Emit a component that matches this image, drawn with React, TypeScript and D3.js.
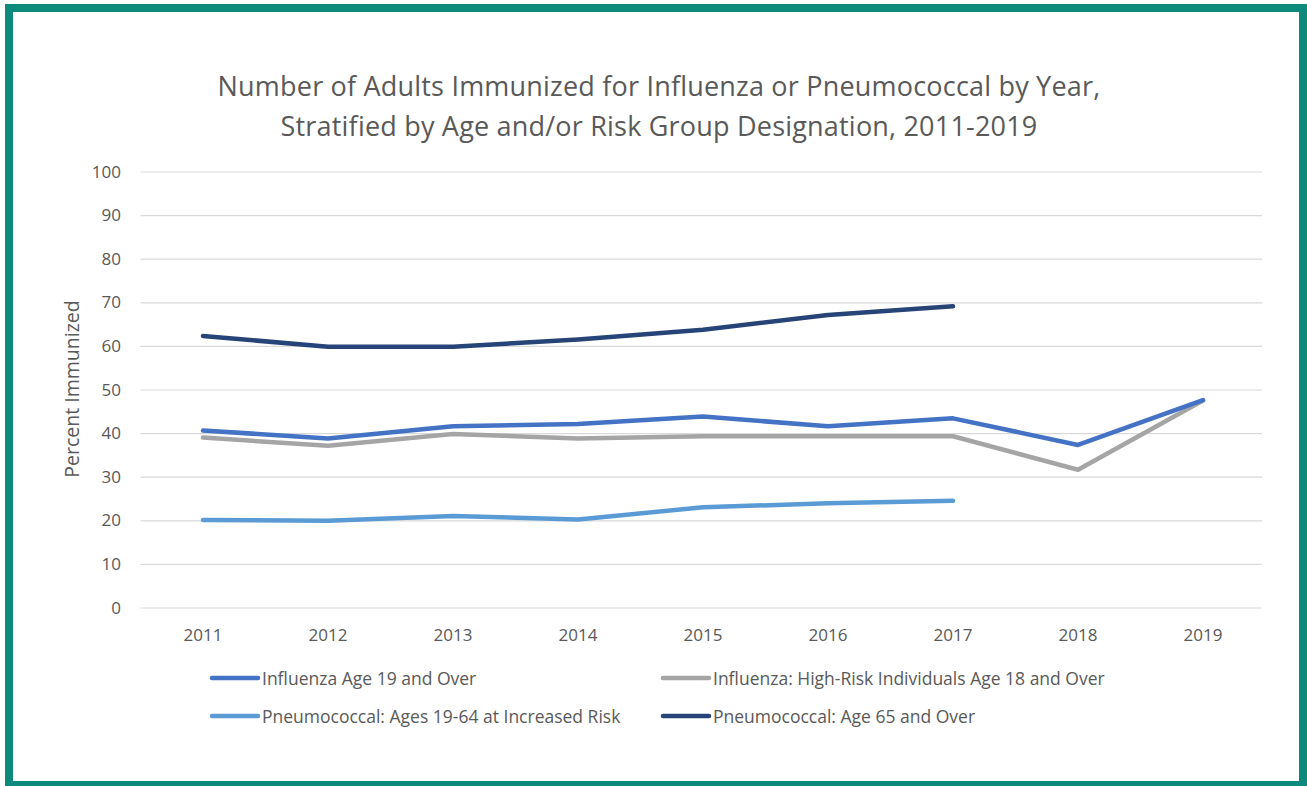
import React from "react";
import * as d3 from "d3";

const years = ["2011", "2012", "2013", "2014", "2015", "2016", "2017", "2018", "2019"];
const influenza19 = [40.7, 38.9, 41.7, 42.2, 43.9, 41.7, 43.5, 37.4, 47.7];
const influenzaHighRisk = [39.1, 37.2, 39.9, 38.9, 39.4, 39.4, 39.4, 31.7, 47.6];
const pneumo1964 = [20.2, 20.0, 21.1, 20.3, 23.1, 24.0, 24.6, null, null];
const pneumo65 = [62.4, 59.9, 59.9, 61.6, 63.8, 67.2, 69.2, null, null];
const yTicks = [0, 10, 20, 30, 40, 50, 60, 70, 80, 90, 100];

const seriesNames = [
  "Influenza Age 19 and Over",
  "Influenza: High-Risk Individuals Age 18 and Over",
  "Pneumococcal: Ages 19-64 at Increased Risk",
  "Pneumococcal: Age 65 and Over",
];
const seriesColors = ["#4472C4", "#A5A5A5", "#5B9BD5", "#264478"];
const seriesValues = [influenza19, influenzaHighRisk, pneumo1964, pneumo65];

const titleLines = [
  "Number of Adults Immunized for Influenza or Pneumococcal by Year,",
  "Stratified by Age and/or Risk Group Designation, 2011-2019",
];

const FONT = "'Open Sans', Lato, sans-serif";
const TEXT = "#595959";

export default function App() {
  const W = 1307, H = 786;
  const x = d3.scaleBand<string>().domain(years).range([140.5, 1265.5]);
  const y = d3.scaleLinear().domain([0, 100]).range([608, 172]);
  const cx = (d: string) => (x(d) as number) + x.bandwidth() / 2;
  const line = d3
    .line<[string, number | null]>()
    .defined((d) => d[1] != null)
    .x((d) => cx(d[0]))
    .y((d) => y(d[1] as number));

  const draw = [1, 0, 2, 3];
  const legendPos = [
    { x: 212, y: 678 },
    { x: 663, y: 678 },
    { x: 212, y: 716 },
    { x: 663, y: 716 },
  ];

  return (
    <svg width={W} height={H} style={{ position: "absolute", left: 0, top: 0, background: "#fff" }} fontFamily={FONT}>
      <rect x={0} y={0} width={W} height={H} fill="#fff" />
      <rect x={9} y={8} width={1294} height={777} fill="none" stroke="#0E8A7C" strokeWidth={8} />
      {titleLines.map((t, i) => (
        <text key={i} x={659} y={96 + i * 40} textAnchor="middle" fontSize={27} fill={TEXT} letterSpacing={0.2}>
          {t}
        </text>
      ))}
      {yTicks.map((t) => (
        <g key={t}>
          <line x1={140.5} x2={1262} y1={y(t)} y2={y(t)} stroke="#D9D9D9" strokeWidth={1.2} />
          <text x={121} y={y(t) + 5.5} textAnchor="end" fontSize={17} fill={TEXT}>
            {t}
          </text>
        </g>
      ))}
      {years.map((yr) => (
        <text key={yr} x={cx(yr)} y={640.5} textAnchor="middle" fontSize={17} fill={TEXT}>
          {yr}
        </text>
      ))}
      <text transform={`translate(79,389) rotate(-90)`} textAnchor="middle" fontSize={19.5} fill={TEXT}>
        Percent Immunized
      </text>
      {draw.map((i) => (
        <path
          key={i}
          d={line(years.map((yr, j) => [yr, seriesValues[i][j]]) as [string, number | null][]) || ""}
          fill="none"
          stroke={seriesColors[i]}
          strokeWidth={4.5}
          strokeLinecap="round"
          strokeLinejoin="round"
        />
      ))}
      {seriesNames.map((n, i) => (
        <g key={n}>
          <line x1={legendPos[i].x} x2={legendPos[i].x + 46} y1={legendPos[i].y} y2={legendPos[i].y} stroke={seriesColors[i]} strokeWidth={4.5} strokeLinecap="round" />
          <text x={legendPos[i].x + 50} y={legendPos[i].y + 6.5} fontSize={17.5} fill={TEXT}>
            {n}
          </text>
        </g>
      ))}
    </svg>
  );
}
